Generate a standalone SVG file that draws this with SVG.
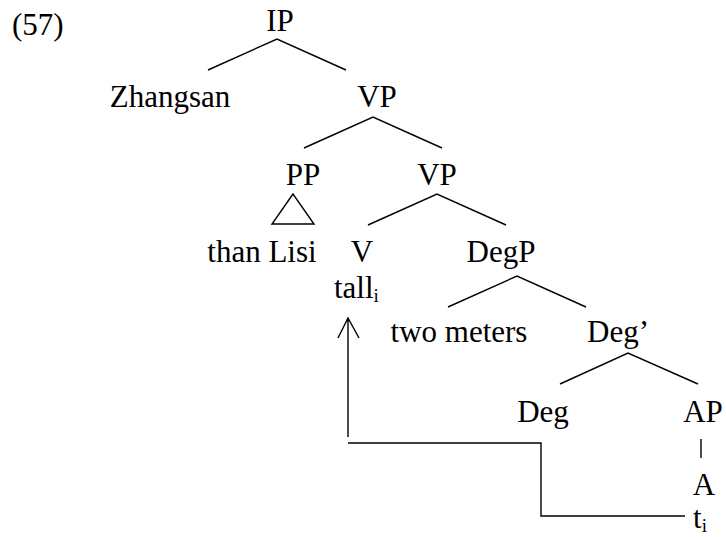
<svg xmlns="http://www.w3.org/2000/svg" width="726" height="537" viewBox="0 0 726 537">
<style>
text{font-family:"Liberation Serif","Times New Roman",serif;font-size:31px;fill:#000}
.e{stroke:#000;stroke-width:1.4;fill:none}
.s{font-size:19px}
</style>
<rect width="726" height="537" fill="#fff"/>
<text x="12" y="35">(57)</text>
<g id="IP"><text x="280" y="31" text-anchor="middle">IP</text></g>
<g id="Zhangsan"><text x="170" y="107" text-anchor="middle">Zhangsan</text></g>
<g id="VP1"><text x="377" y="107" text-anchor="middle">VP</text></g>
<g id="PP"><text x="303" y="185" text-anchor="middle">PP</text>
<polygon class="e" points="293,194 272,224 314,224"/></g>
<g id="VP2"><text x="437" y="185" text-anchor="middle">VP</text></g>
<g id="thanLisi"><text x="262" y="262" text-anchor="middle">than Lisi</text></g>
<g id="V"><text x="362" y="262" text-anchor="middle">V</text>
<text x="334" y="298">tall<tspan class="s" dy="4">i</tspan></text></g>
<g id="DegP"><text x="501" y="262" text-anchor="middle">DegP</text></g>
<g id="twometers"><text x="459" y="342" text-anchor="middle">two meters</text></g>
<g id="DegBar"><text x="587" y="342">Deg’</text></g>
<g id="Deg"><text x="543" y="422" text-anchor="middle">Deg</text></g>
<g id="AP"><text x="703" y="422" text-anchor="middle">AP</text></g>
<g id="A"><text x="704" y="495" text-anchor="middle">A</text>
<text x="693" y="528">t<tspan class="s" dy="4">i</tspan></text></g>
<g id="connectors">
<path class="e" d="M208,70 L277,39 L346,70"/>
<path class="e" d="M304,148 L373,117 L442,148"/>
<path class="e" d="M368,225 L437,194 L506,225"/>
<path class="e" d="M448,307 L517,276 L586,307"/>
<path class="e" d="M560,384 L628,353 L698,384"/>
<path class="e" d="M701,439 L701,458"/>
<path class="e" d="M348,437 L348,318 M338,338 L348,318 L359,338"/>
<path class="e" d="M348,443 L541,443 L541,516 L685,516"/>
</g>
</svg>
